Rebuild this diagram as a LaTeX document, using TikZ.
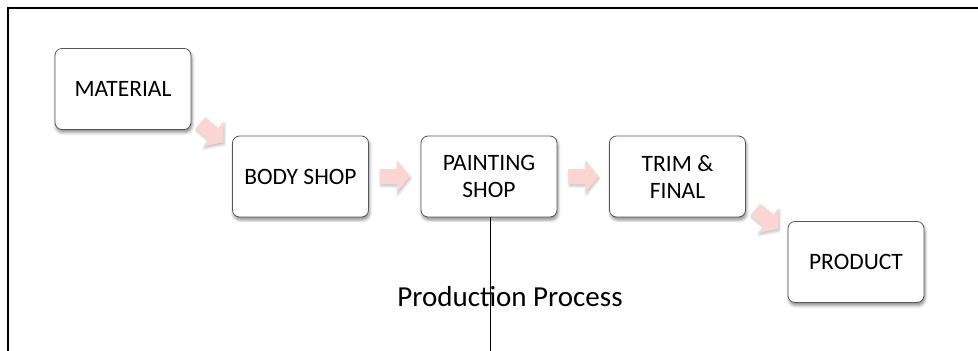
\documentclass[tikz,border=0pt]{standalone}
\usepackage{fontspec}
\setmainfont{Carlito}
\usetikzlibrary{calc,shadows.blur}

\definecolor{arrowpink}{RGB}{251,212,212}
\definecolor{boxline}{RGB}{85,85,85}

\tikzset{
  stagebox/.style={
    draw=boxline, line width=0.8pt, fill=white, rounded corners=7pt,
    minimum width=136pt, minimum height=81pt, inner sep=2pt,
    align=center, font=\fontsize{23.5}{27}\selectfont,
    blur shadow={shadow xshift=1pt, shadow yshift=-3pt,
                 shadow blur radius=3pt, shadow opacity=45}},
  flowarrow/.style={
    fill=arrowpink, draw=none,
    blur shadow={shadow xshift=1pt, shadow yshift=-2pt,
                 shadow blur radius=2.5pt, shadow opacity=25}},
  framerule/.style={line width=1.6pt, black},
  pics/blockarrow/.style={
    code={\path[flowarrow] (-15,-7.5) -- (2,-7.5) -- (2,-16) -- (15,0)
           -- (2,16) -- (2,7.5) -- (-15,7.5) -- cycle;}}
}

\begin{document}
\begin{tikzpicture}[x=1pt, y=-1pt]
  \useasboundingbox (0,0) rectangle (978,351);

  % outer frame: top and left rules only
  \coordinate (ftl) at (8,8);
  \coordinate (ftr) at (978,8);
  \coordinate (fbl) at (8,351);
  \draw[framerule] (ftr) -- (ftl) -- (fbl);

  % process stages
  \node[stagebox] (material) at (123,89)    {MATERIAL};
  \node[stagebox] (body)     at (300.5,176.5) {BODY SHOP};
  \node[stagebox] (painting) at (489,176.5) {PAINTING\\SHOP};
  \node[stagebox] (trim)     at (677.5,176.5) {TRIM \&\\FINAL};
  \node[stagebox] (product)  at (856,262)   {PRODUCT};

  % block arrows between stages
  \pic[rotate=-40] at ($(material.south east)!0.5!(body.north west)$) {blockarrow};
  \pic at ($(body.east)!0.5!(painting.west)$) {blockarrow};
  \pic at ($(painting.east)!0.5!(trim.west)$) {blockarrow};
  \pic[rotate=-40] at ($(trim.south east)!0.5!(product.north west)$) {blockarrow};

  % caption and divider line
  \node[font=\fontsize{29}{34}\selectfont, inner sep=0pt, anchor=base] (caption) at (510,306) {Production Process};
  \coordinate (lineend) at (490,351);
  \draw[black, line width=1pt] (painting.south -| lineend) -- (lineend);
\end{tikzpicture}
\end{document}
